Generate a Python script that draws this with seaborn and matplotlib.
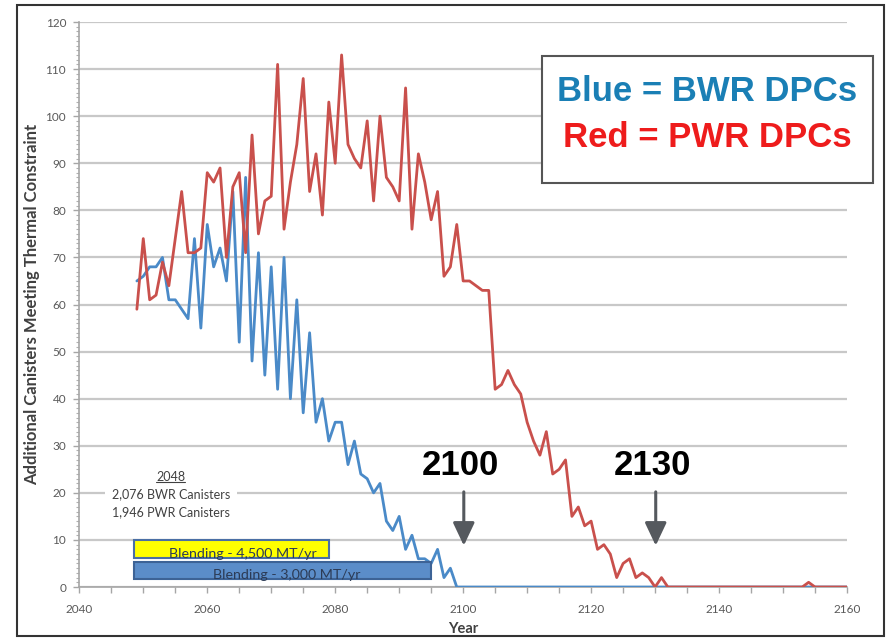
import numpy as np
import pandas as pd
import seaborn as sns
import matplotlib.pyplot as plt
import matplotlib.font_manager as fm
from matplotlib.patches import Rectangle
from matplotlib.lines import Line2D
from matplotlib.ticker import MultipleLocator

# yearly values (2049 - 2160)
years = list(range(2049, 2161))

bwr = [65, 66, 68, 68, 70, 61, 61, 59, 57, 74,
       55, 77, 68, 72, 65, 84, 52, 87, 48, 71,
       45, 68, 42, 70, 40, 61, 37, 54, 35, 40,
       31, 35, 35, 26, 31, 24, 23, 20, 22, 14,
       12, 15, 8, 11, 6, 6, 5, 8, 2, 4,
       0, 0, 0, 0, 0, 0, 0, 0, 0, 0,
       0, 0, 0, 0, 0, 0, 0, 0, 0, 0,
       0, 0, 0, 0, 0, 0, 0, 0, 0, 0,
       0, 0, 0, 0, 0, 0, 0, 0, 0, 0,
       0, 0, 0, 0, 0, 0, 0, 0, 0, 0,
       0, 0, 0, 0, 0, 0, 0, 0, 0, 0,
       0, 0]

pwr = [59, 74, 61, 62, 69, 64, 74, 84, 71, 71,
       72, 88, 86, 89, 70, 85, 88, 71, 96, 75,
       82, 83, 111, 76, 86, 94, 108, 84, 92, 79,
       103, 90, 113, 94, 91, 89, 99, 82, 100, 87,
       85, 82, 106, 76, 92, 86, 78, 84, 66, 68,
       77, 65, 65, 64, 63, 63, 42, 43, 46, 43,
       41, 35, 31, 28, 33, 24, 25, 27, 15, 17,
       13, 14, 8, 9, 7, 2, 5, 6, 2, 3,
       2, 0, 2, 0, 0, 0, 0, 0, 0, 0,
       0, 0, 0, 0, 0, 0, 0, 0, 0, 0,
       0, 0, 0, 0, 0, 1, 0, 0, 0, 0,
       0, 0]

blend_labels = ['Blending - 4,500 MT/yr', 'Blending - 3,000 MT/yr']
blend_start = [2048.5, 2048.5]
blend_end = [2079, 2095]

milestones = [2100, 2130]
note_lines = ['2048', '2,076 BWR Canisters', '1,946 PWR Canisters']

sns.set_style('white')
plt.rcParams['font.family'] = ['Lato', 'DejaVu Sans']

installed = {f.name for f in fm.fontManager.ttflist}
if 'Liberation Sans Narrow' in installed:
    key_font, key_size = 'Liberation Sans Narrow', 30
else:
    key_font, key_size = 'Liberation Sans', 25

df = pd.DataFrame({
    'Year': years + years,
    'Canisters': bwr + pwr,
    'Type': ['BWR'] * len(years) + ['PWR'] * len(years),
})

fig = plt.figure(figsize=(8.9, 6.38), dpi=100)
ax = fig.add_axes([0.0891, 0.0799, 0.8626, 0.8856])

ax.yaxis.grid(True, color='#c8c8c8', linewidth=1.6, zorder=0)
ax.set_axisbelow(True)

sns.lineplot(data=df, x='Year', y='Canisters', hue='Type', hue_order=['BWR', 'PWR'],
             palette={'BWR': '#4a8ac8', 'PWR': '#c9504c'}, linewidth=2.0,
             legend=False, ax=ax, zorder=3)

# blending bars
ax.barh([8.1, 3.5], [e - s for s, e in zip(blend_start, blend_end)], left=blend_start,
        height=3.7, color=['#ffff00', '#5b8dc9'], edgecolor=['#4a6fa5', '#3d6396'],
        linewidth=1.5, zorder=4)
ax.text(2065.5, 7.0, blend_labels[0], ha='center', va='center', fontsize=10.3,
        color='#2c3b55', zorder=5)
ax.text(2072.4, 2.5, blend_labels[1], ha='center', va='center', fontsize=10.3,
        color='#2c3b55', zorder=5)

# 2048 note
t0 = ax.text(2054.3, 23.4, note_lines[0], ha='center', va='center', fontsize=9,
             color='#404040', zorder=5)
ax.text(2054.3, 19.75, note_lines[1], ha='center', va='center', fontsize=9,
        color='#404040', zorder=5,
        bbox=dict(boxstyle='square,pad=0.55', fc='white', ec='none'))
ax.text(2054.3, 15.9, note_lines[2], ha='center', va='center', fontsize=9,
        color='#404040', zorder=5)

# milestone arrows
for yr in milestones:
    ax.text(yr - 0.4, 25.8, str(yr), ha='center', va='center', fontsize=25,
            fontweight='bold', family='Liberation Sans', color='black', zorder=6)
    ax.annotate('', xy=(yr + 0.1, 8.2), xytext=(yr + 0.1, 20.8),
                arrowprops=dict(arrowstyle='-|>,head_length=0.7,head_width=0.33',
                                mutation_scale=20, lw=2.2, color='#55595e'),
                zorder=6)

ax.set_xlim(2040, 2160)
ax.set_ylim(0, 120)
ax.xaxis.set_major_locator(MultipleLocator(20))
ax.xaxis.set_minor_locator(MultipleLocator(5))
ax.yaxis.set_major_locator(MultipleLocator(10))
ax.yaxis.set_minor_locator(MultipleLocator(1))

ax.tick_params(axis='x', which='both', direction='out', length=4, width=1,
               color='#a6a6a6', labelsize=8.5, labelcolor='#595959', pad=8)
ax.tick_params(axis='y', which='major', direction='out', length=4, width=1,
               color='#a6a6a6', labelsize=8.5, labelcolor='#595959', pad=5.5)
ax.tick_params(axis='y', which='minor', direction='out', length=2.5, width=0.8,
               color='#b0b0b0')
ax.tick_params(left=True, bottom=True, which='both')

for side in ['top', 'right']:
    ax.spines[side].set_visible(False)
for side in ['left', 'bottom']:
    ax.spines[side].set_color('#a6a6a6')
    ax.spines[side].set_linewidth(1.2)

ax.set_xlabel('Year', fontsize=10.5, fontweight='bold', color='#404040', labelpad=5)
ax.set_ylabel('Additional Canisters Meeting Thermal Constraint', fontsize=12,
              fontweight='bold', color='#404040', labelpad=4)

# key box
fig.patches.append(Rectangle((0.609, 0.713), 0.372, 0.199, transform=fig.transFigure,
                             fill=True, facecolor='white', edgecolor='#555555',
                             linewidth=1.5, zorder=10))
fig.text(0.795, 0.856, 'Blue = BWR DPCs', ha='center', va='center', fontsize=key_size,
         fontweight='bold', family=key_font, color='#1a7fb5', zorder=11)
fig.text(0.795, 0.784, 'Red = PWR DPCs', ha='center', va='center', fontsize=key_size,
         fontweight='bold', family=key_font, color='#ee1c1c', zorder=11)

# outer frame
fig.patches.append(Rectangle((0.019, 0.003), 0.974, 0.989, transform=fig.transFigure,
                             fill=False, edgecolor='#333333', linewidth=1.5, zorder=12))

# underline the 2048 heading
fig.canvas.draw()
bb = t0.get_window_extent(renderer=fig.canvas.get_renderer())
inv = fig.transFigure.inverted()
(x0, y0), (x1, _) = inv.transform([(bb.x0, bb.y0 + 1), (bb.x1, bb.y0 + 1)])
fig.lines.append(Line2D([x0, x1], [y0, y0], transform=fig.transFigure,
                        color='#404040', linewidth=0.8))

fig.savefig('out.png', dpi=100)
